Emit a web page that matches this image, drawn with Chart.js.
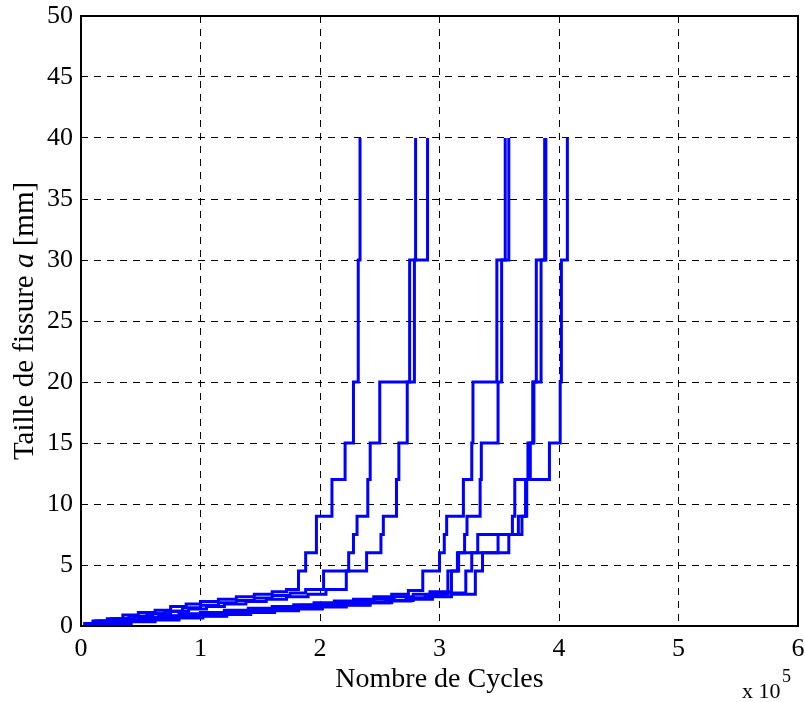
<!DOCTYPE html>
<html>
<head>
<meta charset="utf-8">
<script src="https://cdn.jsdelivr.net/npm/chart.js@4.4.1/dist/chart.umd.min.js"></script>
<style>
  html, body { margin: 0; padding: 0; background: #fff; }
  #wrap { width: 805px; height: 702px; }
</style>
</head>
<body>
<div id="wrap"><canvas id="crackChart"></canvas></div>
<script>
// cycles in units of 1e5, crack size a in mm (jump points of each stair curve)
const cyclesA = [0.02, 0.10, 0.22, 0.35, 0.48, 0.62, 0.75, 0.88, 1.00, 1.15, 1.30, 1.45, 1.60, 1.72, 1.82, 1.88, 1.97, 2.10, 2.21, 2.28, 2.32, 2.335];
const crackA  = [0.2, 0.4, 0.6, 0.9, 1.1, 1.3, 1.6, 1.8, 2.0, 2.2, 2.4, 2.6, 2.8, 3.0, 4.5, 6, 9, 12, 15, 20, 30, 40];

const cyclesB = [0.02, 0.12, 0.25, 0.40, 0.55, 0.70, 0.85, 1.00, 1.15, 1.30, 1.45, 1.60, 1.75, 1.88, 2.03, 2.24, 2.28, 2.31, 2.40, 2.42, 2.50, 2.79, 2.80];
const crackB  = [0.2, 0.4, 0.6, 0.8, 1.0, 1.2, 1.5, 1.7, 1.9, 2.1, 2.3, 2.5, 2.7, 3.0, 4.5, 6, 7.5, 9, 12, 15, 20, 30, 40];

const cyclesC = [0.03, 0.15, 0.30, 0.45, 0.60, 0.75, 0.90, 1.05, 1.20, 1.38, 1.55, 1.72, 1.90, 2.05, 2.22, 2.39, 2.51, 2.53, 2.64, 2.66, 2.73, 2.75, 2.90];
const crackC  = [0.2, 0.4, 0.6, 0.8, 1.0, 1.2, 1.4, 1.6, 1.8, 2.0, 2.2, 2.4, 2.6, 3.0, 4.5, 6, 7.5, 9, 12, 15, 20, 30, 40];

const cyclesD = [0.03, 0.15, 0.30, 0.48, 0.65, 0.82, 1.00, 1.20, 1.40, 1.60, 1.78, 1.95, 2.12, 2.28, 2.45, 2.60, 2.74, 2.86, 3.00, 3.04, 3.06, 3.20, 3.27, 3.28, 3.48, 3.55];
const crackD  = [0.2, 0.35, 0.5, 0.7, 0.85, 1.0, 1.1, 1.3, 1.45, 1.6, 1.75, 1.9, 2.05, 2.2, 2.4, 2.6, 2.9, 4.5, 6, 7.5, 9, 12, 15, 20, 30, 40];

const cyclesE = [0.03, 0.18, 0.35, 0.52, 0.70, 0.88, 1.06, 1.25, 1.45, 1.65, 1.85, 2.05, 2.25, 2.45, 2.62, 2.78, 2.92, 3.10, 3.16, 3.21, 3.23, 3.34, 3.35, 3.49, 3.52, 3.58];
const crackE  = [0.2, 0.35, 0.5, 0.65, 0.8, 0.95, 1.1, 1.25, 1.4, 1.55, 1.7, 1.85, 2.0, 2.2, 2.4, 2.6, 2.8, 4.5, 6, 7.5, 9, 12, 15, 20, 30, 40];

const cyclesF = [0.04, 0.20, 0.38, 0.56, 0.75, 0.95, 1.15, 1.35, 1.55, 1.75, 1.95, 2.15, 2.35, 2.55, 2.72, 2.88, 3.02, 3.22, 3.27, 3.49, 3.66, 3.72, 3.74, 3.78, 3.81, 3.88];
const crackF  = [0.15, 0.3, 0.45, 0.6, 0.75, 0.9, 1.05, 1.2, 1.35, 1.5, 1.65, 1.8, 1.95, 2.1, 2.3, 2.5, 2.7, 4.5, 6, 7.5, 9, 12, 15, 20, 30, 40];

const cyclesG = [0.04, 0.22, 0.40, 0.60, 0.80, 1.00, 1.20, 1.40, 1.60, 1.80, 2.00, 2.20, 2.40, 2.58, 2.76, 2.94, 3.10, 3.30, 3.36, 3.58, 3.69, 3.73, 3.76, 3.79, 3.85, 3.89];
const crackG  = [0.1, 0.25, 0.4, 0.55, 0.7, 0.85, 1.0, 1.15, 1.3, 1.45, 1.6, 1.75, 1.9, 2.05, 2.2, 2.4, 2.6, 4.5, 6, 7.5, 9, 12, 15, 20, 30, 40];

const cyclesH = [0.05, 0.22, 0.42, 0.62, 0.82, 1.02, 1.22, 1.42, 1.62, 1.82, 2.02, 2.22, 2.42, 2.60, 2.78, 2.94, 3.07, 3.15, 3.32, 3.61, 3.63, 3.92, 4.01, 4.02, 4.07];
const crackH  = [0.1, 0.2, 0.35, 0.5, 0.65, 0.8, 0.95, 1.1, 1.25, 1.4, 1.55, 1.7, 1.9, 2.1, 2.3, 2.6, 4.5, 6, 7.5, 9, 12, 15, 20, 30, 40];

const curves = [
    [cyclesA, crackA], [cyclesB, crackB], [cyclesC, crackC], [cyclesD, crackD],
    [cyclesE, crackE], [cyclesF, crackF], [cyclesG, crackG], [cyclesH, crackH],
];

const serif = "'Liberation Serif', 'Times New Roman', serif";

const frame = {
    id: "frame",
    afterDraw(chart) {
        const { ctx, chartArea: a } = chart;
        ctx.save();
        ctx.strokeStyle = "#000";
        ctx.lineWidth = 2;
        ctx.strokeRect(a.left, a.top, a.right - a.left, a.bottom - a.top);

        // y title, with an italic "a"
        const parts = [
            ["Taille de fissure ", "29px " + serif],
            ["a", "italic 29px " + serif],
            [" [mm]", "29px " + serif],
        ];
        let total = 0;
        parts.forEach(([t, f]) => { ctx.font = f; total += ctx.measureText(t).width; });
        ctx.translate(25, (a.top + a.bottom) / 2);
        ctx.rotate(-Math.PI / 2);
        ctx.fillStyle = "#000";
        ctx.textBaseline = "middle";
        ctx.textAlign = "left";
        let x = -total / 2;
        parts.forEach(([t, f]) => {
            ctx.font = f;
            ctx.fillText(t, x, 0);
            x += ctx.measureText(t).width;
        });
        ctx.restore();

        // x 10^5 multiplier
        ctx.save();
        ctx.fillStyle = "#000";
        ctx.textAlign = "left";
        ctx.textBaseline = "alphabetic";
        ctx.font = "22px " + serif;
        ctx.fillText("x 10", 742, 698);
        ctx.font = "18px " + serif;
        ctx.fillText("5", 782, 682);
        ctx.restore();
    },
};

const ctx = document.getElementById("crackChart");

new Chart(ctx, {
    type: "scatter",
    data: {
        datasets: curves.map(([xs, ys]) => ({
            data: xs.map((x, i) => ({ x: x, y: ys[i] })),
            showLine: true,
            stepped: "before",
            borderColor: "#0000ff",
            backgroundColor: "#0000ff",
            borderWidth: 3,
            pointRadius: 0,
            fill: false,
        })),
    },
    options: {
        responsive: true,
        maintainAspectRatio: false,
        animation: false,
        layout: {
            padding: { left: 0, right: 7, top: 16, bottom: 0 },
        },
        scales: {
            x: {
                type: "linear",
                min: 0,
                max: 6,
                afterFit: (scale) => {
                    scale.height = 76;
                    scale.paddingLeft = 0;
                    scale.paddingRight = 0;
                },
                ticks: {
                    stepSize: 1,
                    color: "#000",
                    padding: 8,
                    font: { family: serif, size: 26 },
                },
                grid: {
                    color: "#000",
                    lineWidth: 1,
                    drawTicks: false,
                },
                border: { display: false, dash: [7, 6] },
                title: {
                    display: true,
                    text: "Nombre de Cycles",
                    color: "#000",
                    font: { family: serif, size: 28 },
                    padding: { top: 0, bottom: 6 },
                },
            },
            y: {
                type: "linear",
                min: 0,
                max: 50,
                afterFit: (scale) => {
                    scale.width = 81;
                    scale.paddingTop = 0;
                    scale.paddingBottom = 0;
                },
                ticks: {
                    stepSize: 5,
                    color: "#000",
                    padding: 8,
                    font: { family: serif, size: 26 },
                },
                grid: {
                    color: "#000",
                    lineWidth: 1,
                    drawTicks: false,
                },
                border: { display: false, dash: [7, 6] },
            },
        },
        plugins: {
            legend: { display: false },
            tooltip: { enabled: false },
        },
    },
    plugins: [frame],
});
</script>
</body>
</html>
